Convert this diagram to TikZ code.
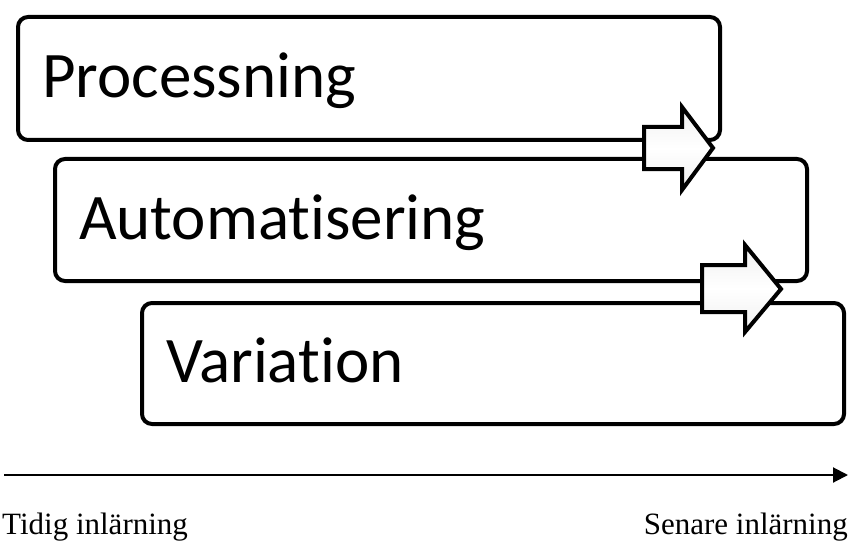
\documentclass[tikz,border=0pt]{standalone}
\usepackage{fontspec}
\setmainfont{Liberation Serif}
\newfontfamily\stagefont[Ligatures=NoCommon]{Carlito}
\usetikzlibrary{arrows.meta}

\begin{document}
\begin{tikzpicture}[x=1pt,y=-1pt,
    stage/.style={draw=black,line width=4pt,rounded corners=10pt,anchor=north west,
        inner xsep=24pt,inner ysep=0pt,align=left,text height=41pt,text depth=3pt,
        font=\stagefont\fontsize{65}{78}\selectfont},
    blockarrow/.style={draw=black,line width=4pt,top color=gray!12,bottom color=gray!12,middle color=white},
    timelabel/.style={inner sep=0pt,font=\fontsize{31}{36}\selectfont}]
            \useasboundingbox (0,0) rectangle (858,548);

            \node[stage,minimum height=123pt,text width=654pt] (proc) at (16,15) {Processning};
            \node[stage,minimum height=122pt,text width=704pt] (auto) at (53,157) {Automatisering};
            \node[stage,minimum height=121pt,text width=654pt] (vari) at (140,301) {Variation};

            \draw[blockarrow] (644,127) -- (682,127) -- (682,107) -- (713,148) -- (682,190) -- (682,169) -- (644,169) -- cycle;
            \draw[blockarrow] (702,265) -- (745,265) -- (745,245) -- (781,289) -- (745,332) -- (745,312) -- (702,312) -- cycle;

            \coordinate (tstart) at (4,475);
            \coordinate (tend) at (848,475);
            \draw[line width=2pt,-{Triangle[length=15pt,width=15pt]}] (tstart) -- (tend);

            \node[timelabel,anchor=base west] (early) at (2,534) {Tidig inlärning};
            \node[timelabel,anchor=base east] (late) at (848,534) {Senare inlärning};
        \end{tikzpicture}
\end{document}
